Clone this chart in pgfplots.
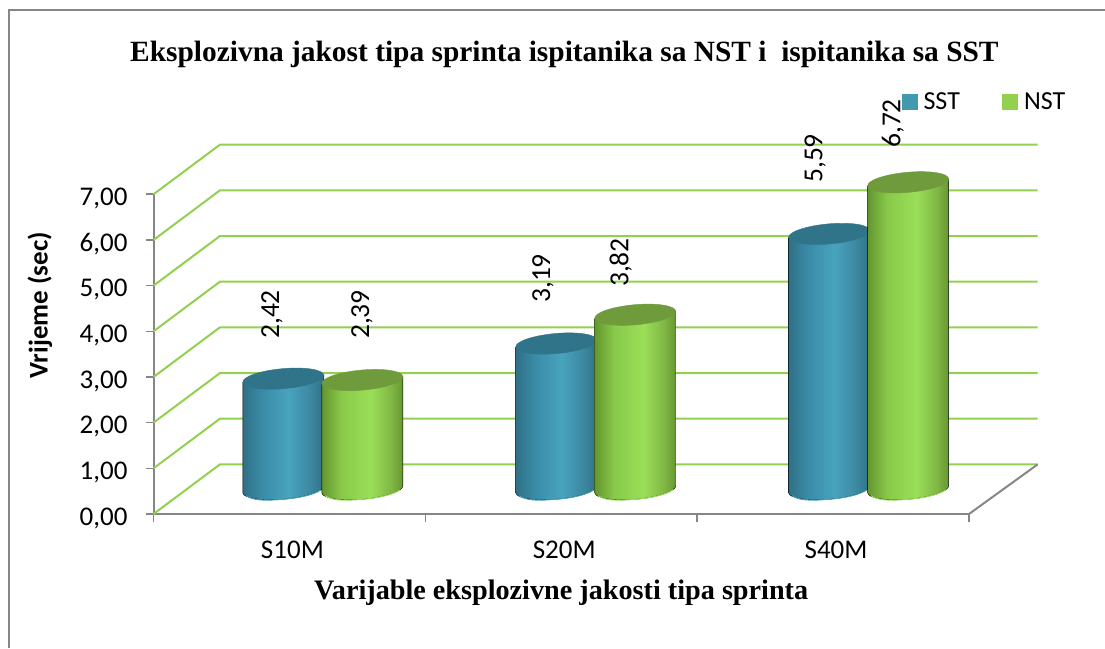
\documentclass[border=0pt]{standalone}
\usepackage{pgfplots}
\usepackage{pgfplotstable}
\usepackage{fontspec}
\pgfplotsset{compat=1.18}
\setmainfont{Carlito}
\newfontfamily\timesfont{Liberation Serif}

\definecolor{framegray}{HTML}{868686}
\definecolor{gridgreen}{HTML}{92D050}
\definecolor{sstblue}{HTML}{4198AF}
\definecolor{nstgreen}{HTML}{92D050}
\definecolor{bluetop}{HTML}{2F7488}
\definecolor{greentop}{HTML}{6F9B3C}
\definecolor{blueA}{HTML}{2F7086}
\definecolor{blueB}{HTML}{3A8CA8}
\definecolor{blueC}{HTML}{48A3BD}
\definecolor{blueD}{HTML}{3D89A2}
\definecolor{greenA}{HTML}{64962F}
\definecolor{greenB}{HTML}{89C94A}
\definecolor{greenC}{HTML}{9ADF58}
\definecolor{greenD}{HTML}{7FB544}

\pgfdeclarehorizontalshading{cylblue}{100bp}{color(0bp)=(blueA); color(25bp)=(blueA); color(37bp)=(blueB); color(53bp)=(blueC); color(66bp)=(blueD); color(75bp)=(blueA); color(100bp)=(blueA)}
\pgfdeclarehorizontalshading{cylgreen}{100bp}{color(0bp)=(greenA); color(25bp)=(greenA); color(37bp)=(greenB); color(55bp)=(greenC); color(68bp)=(greenD); color(75bp)=(greenA); color(100bp)=(greenA)}

\pgfdeclareplotmark{nomark}{}

% cylinder hanging below the marker: x offset, shading, colour of the lid, colour of the bottom rim
\newcommand{\cylinder}[4]{%
  \begin{pgfscope}
  \pgftransformshift{\pgfqpoint{#1pt}{24.8pt}}
  \begin{scope}[x=1pt,y=1pt]
    \path[shade,shading=#2] (-40.5,-3.6) -- (-40.5,{-3.6-\h})
      .. controls (-40,{-9.12-\h}) and (-21.47,{-11.99-\h}) .. (0.9,{-10-\h})
      .. controls (23.27,{-8.01-\h}) and (41,{-1.92-\h}) .. (40.5,{3.6-\h})
      -- (40.5,3.6) -- cycle;
    \draw[#4,line width=0.9pt] (-37,{-6.6-\h})
      .. controls (-30,{-11-\h}) and (-21.47,{-11.99-\h}) .. (0.9,{-10-\h})
      .. controls (15,{-8.8-\h}) and (30,{-6-\h}) .. (38,{-0.5-\h});
    \fill[#3] (-40.5,-3.6)
      .. controls (-40,-9.12) and (-21.47,-11.99) .. (0.9,-10)
      .. controls (23.27,-8.01) and (41,-1.92) .. (40.5,3.6)
      .. controls (40,9.12) and (21.47,11.99) .. (-0.9,10)
      .. controls (-23.27,8.01) and (-41,1.92) .. (-40.5,-3.6) -- cycle;
  \end{scope}
  \end{pgfscope}}

\pgfplotsset{
  backgrid/.style={gridgreen,line width=2pt,forget plot},
  cyl/.style n args={4}{
    scatter,only marks,mark=nomark,scatter src=y,
    visualization depends on={\thisrow{y}*45.67 \as \h},
    visualization depends on={\thisrow{lx} \as \lx},
    visualization depends on={\thisrow{ly} \as \ly},
    nodes near coords,
    nodes near coords style={xshift=\lx pt,yshift=\ly pt,rotate=90,anchor=west,inner sep=0pt,
      font=\fontsize{27.5}{27.5}\selectfont,text=black},
    scatter/@pre marker code/.append code={\cylinder{#1}{#2}{#3}{#4}},
  },
}

\pgfplotstableread{
x y lx ly
0 2.42 -17.4 64.5
1.004 3.19 -19.3 65.3
2.008 5.59 -20.1 75.7
}\sst
\pgfplotstableread{
x y lx ly
0 2.39 72.6 65.8
1.004 3.82 58.4 52.5
2.008 6.72 57.6 59.1
}\nst

\begin{document}
\begin{tikzpicture}
\path[use as bounding box] (0,0) rectangle (1105pt,648pt);
\draw[framegray,line width=2pt] (9pt,0) -- (9pt,637.5pt) -- (1105pt,637.5pt);
\begin{axis}[
    at={(153.5pt,134pt)},anchor=south west,
    scale only axis,width=815.5pt,height=319.7pt,
    xmin=-0.5,xmax=2.5,ymin=0,ymax=7,
    clip=false,
    axis x line*=bottom,axis y line*=left,
    axis line style={framegray,line width=2pt},
    tick style={framegray,line width=1.6pt},
    tick align=outside,major tick length=7.5pt,
    xtick={-0.5,0.5,1.5,2.5},xticklabels={},
    extra x ticks={0,1,2},extra x tick labels={S10M,S20M,S40M},
    extra x tick style={major tick length=0pt,
      tick label style={yshift=-23pt,xshift=3pt}},
    ytick={0,1,...,7},
    every tick label/.append style={font=\fontsize{27}{27}\selectfont,text=black},
    /pgf/number format/.cd,fixed,fixed zerofill,precision=2,use comma,assume math mode=true,
    /pgfplots/.cd,
    yticklabel style={xshift=-15pt,yshift=-4pt},
    title={\timesfont\bfseries Eksplozivna jakost tipa sprinta ispitanika sa NST i\ \ ispitanika sa SST},
    title style={at={(axis description cs:0.5039,1.42)},anchor=center,yshift=0pt,font=\fontsize{29.4}{29.4}\selectfont},
    xlabel={\timesfont\bfseries Varijable eksplozivne jakosti tipa sprinta},
    xlabel style={at={(axis description cs:0.4999,-0.247)},anchor=center,font=\fontsize{28.2}{28.2}\selectfont},
    ylabel={\bfseries Vrijeme (sec)},
    ylabel style={at={(axis description cs:-0.1392,0.653)},anchor=center,font=\fontsize{27}{27}\selectfont},
    legend columns=2,
    legend style={at={(axis description cs:1.0219,1.29)},anchor=center,draw=none,fill=none,
      font=\fontsize{26}{26}\selectfont,nodes={inner xsep=6.5pt},
      /tikz/every even column/.append style={column sep=36pt}},
    legend cell align=left,
]
% back wall grid, front edge to back edge and along the wall
\addplot[backgrid] coordinates {(-0.5,0) (-0.2557,1.086) (2.7525,1.086)};
\addplot[backgrid] coordinates {(-0.5,1) (-0.2557,2.086) (2.7525,2.086)};
\addplot[backgrid] coordinates {(-0.5,2) (-0.2557,3.086) (2.7525,3.086)};
\addplot[backgrid] coordinates {(-0.5,3) (-0.2557,4.086) (2.7525,4.086)};
\addplot[backgrid] coordinates {(-0.5,4) (-0.2557,5.086) (2.7525,5.086)};
\addplot[backgrid] coordinates {(-0.5,5) (-0.2557,6.086) (2.7525,6.086)};
\addplot[backgrid] coordinates {(-0.5,6) (-0.2557,7.086) (2.7525,7.086)};
\addplot[backgrid] coordinates {(-0.5,7) (-0.2557,8.086) (2.7525,8.086)};
% right floor edge
\addplot[framegray,line width=2pt,forget plot] coordinates {(2.5,0) (2.7525,1.086)};

\addplot[cyl={-6.1}{cylblue}{bluetop}{blueC},
  legend image code/.code={\fill[sstblue] (0pt,-7.3pt) rectangle (14.7pt,7.3pt);}]
  table[x=x,y=y] {\sst};
\addlegendentry{SST}
\addplot[cyl={72.9}{cylgreen}{greentop}{greenC},
  legend image code/.code={\fill[nstgreen] (0pt,-7.3pt) rectangle (14.7pt,7.3pt);}]
  table[x=x,y=y] {\nst};
\addlegendentry{NST}
\end{axis}
\end{tikzpicture}
\end{document}
